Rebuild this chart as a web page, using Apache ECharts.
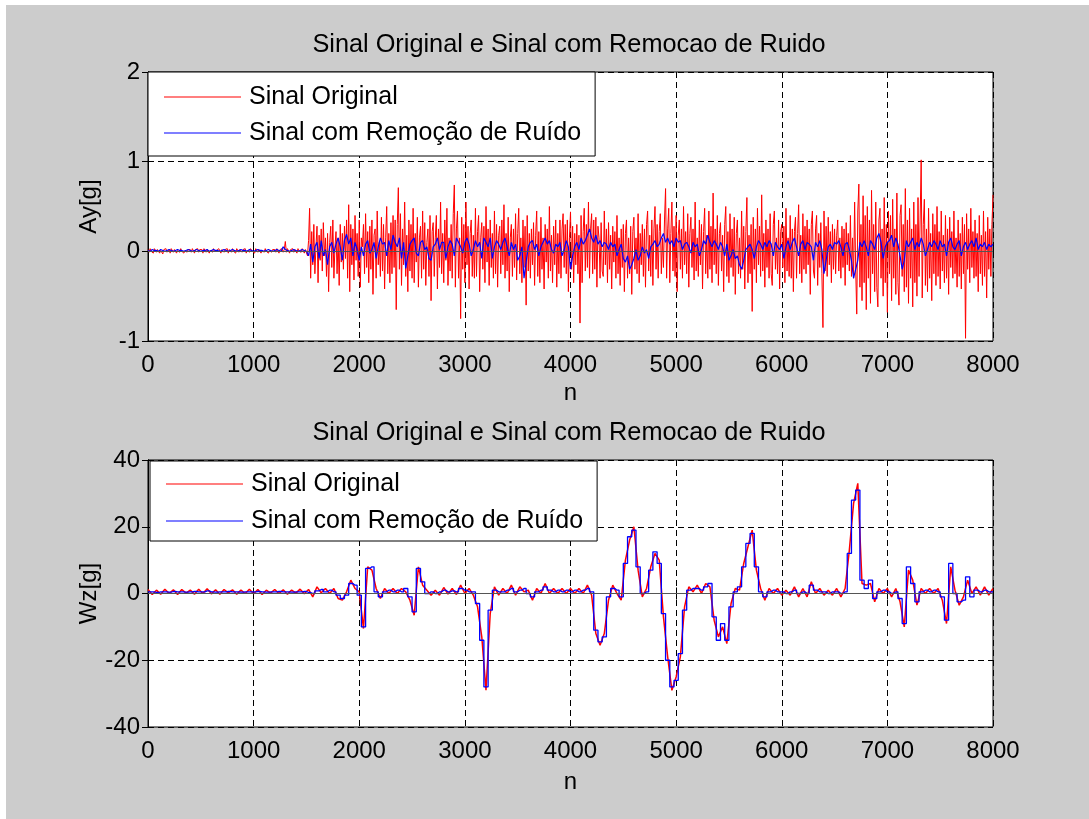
<!DOCTYPE html>
<html>
<head>
<meta charset="utf-8">
<script src="https://cdn.jsdelivr.net/npm/echarts@6/dist/echarts.min.js"></script>
<style>
  html, body { margin: 0; padding: 0; background: #ffffff; }
  #chart { width: 1089px; height: 819px; }
</style>
</head>
<body>
<div id="chart"></div>
<script>
// Sample spacing (in samples n) of each stored series
const AY_ORIG_STEP = 10;
const AY_CLEAN_STEP = 20;
const WZ_STEP = 40;

const xTicks = [0, 1000, 2000, 3000, 4000, 5000, 6000, 7000, 8000];
const ayTicks = [-1, 0, 1, 2];
const wzTicks = [-40, -20, 0, 20, 40];

const seriesNames = ['Sinal Original', 'Sinal com Remoção de Ruído'];
const titleText = 'Sinal Original e Sinal com Remocao de Ruido';

// Ay[g] - raw accelerometer signal (every 10 samples)
const ayOriginal = [
  0.02,-0.01,0.03,0.00,0.02,-0.02,0.03,0.01,-0.01,0.02,0.03,-0.02,0.01,0.02,-0.03,0.02,0.00,0.03,-0.01,0.01,
  0.02,-0.02,0.03,0.01,-0.01,0.02,0.04,-0.02,0.01,0.02,-0.01,0.03,0.00,0.02,-0.02,0.01,0.03,-0.01,0.02,0.00,
  0.02,-0.01,0.03,0.01,-0.02,0.02,0.01,0.03,-0.01,0.02,0.00,0.02,-0.02,0.03,0.01,-0.01,0.02,0.03,-0.02,0.01,
  0.02,-0.01,0.03,0.00,0.02,0.01,-0.01,0.03,0.01,-0.02,0.02,0.03,-0.01,0.02,0.00,0.03,-0.02,0.02,0.01,-0.01,
  0.03,0.00,0.02,-0.02,0.03,0.01,-0.01,0.02,0.04,-0.01,0.02,0.00,0.03,-0.02,0.01,0.02,-0.01,0.03,0.01,0.00,
  0.02,-0.02,0.03,0.01,-0.01,0.02,0.03,-0.02,0.01,0.02,-0.01,0.03,0.00,0.02,-0.02,0.01,0.03,-0.01,0.02,0.00,
  0.02,-0.01,0.03,0.01,-0.02,0.02,0.01,0.03,-0.01,0.02,0.11,-0.01,0.03,0.01,-0.02,0.02,0.00,0.03,-0.01,0.02,
  0.01,-0.02,0.03,0.00,0.02,-0.01,0.03,0.01,-0.02,0.02,0.00,
  -0.05,0.12,0.48,-0.30,0.22,-0.15,0.30,-0.25,0.05,0.28,-0.35,0.18,-0.10,0.25,-0.22,0.32,-0.05,0.15,-0.28,0.20,
  -0.45,0.10,0.28,-0.18,0.35,-0.30,0.05,0.22,-0.25,0.15,-0.38,0.30,-0.12,0.20,-0.20,0.28,-0.08,0.35,-0.30,0.52,
  -0.45,0.30,-0.15,0.25,-0.32,0.40,-0.10,0.20,-0.28,0.35,-0.40,0.15,0.05,0.30,-0.25,0.42,-0.18,0.22,-0.35,0.28,
  -0.20,0.35,-0.48,0.18,0.25,-0.30,0.45,-0.15,0.10,-0.28,0.38,-0.22,0.30,-0.42,0.15,0.50,-0.25,0.20,-0.35,0.32,
  -0.25,0.40,-0.18,0.35,-0.65,0.30,0.71,-0.20,0.42,-0.38,0.25,-0.15,0.55,-0.28,0.18,-0.45,0.35,-0.22,0.30,-0.30,
  0.48,-0.35,0.20,-0.12,0.38,-0.40,0.15,0.28,-0.30,0.45,-0.20,0.32,-0.38,0.10,0.25,-0.28,0.40,-0.55,0.22,0.32,
  -0.28,0.15,0.40,-0.42,0.25,-0.18,0.55,-0.25,0.20,-0.35,0.35,-0.10,0.48,-0.38,0.15,-0.22,0.30,-0.30,0.42,0.74,
  -0.40,0.25,0.45,-0.30,0.15,-0.75,0.38,-0.20,0.30,-0.35,0.55,-0.15,0.28,-0.42,0.20,0.35,-0.28,0.18,-0.30,0.48,
  -0.28,0.22,0.40,-0.45,0.15,0.32,-0.20,0.28,-0.35,0.50,-0.12,0.25,-0.38,0.35,-0.18,0.20,-0.30,0.45,-0.25,0.30,
  -0.40,0.18,0.28,-0.25,0.35,-0.15,0.52,-0.30,0.20,-0.22,0.38,-0.45,0.15,0.30,-0.28,0.25,-0.18,0.42,-0.32,0.20,
  0.48,-0.25,0.15,-0.35,0.35,-0.18,0.28,-0.60,0.40,-0.22,0.20,-0.30,0.25,-0.15,0.32,-0.38,0.18,0.45,-0.28,0.22,
  -0.35,0.38,-0.20,0.15,-0.42,0.30,-0.12,0.25,-0.30,0.50,-0.22,0.18,-0.35,0.28,-0.15,0.35,-0.40,0.20,-0.25,0.35,
  -0.30,0.25,0.42,-0.18,0.30,-0.25,0.35,-0.45,0.15,0.44,-0.20,0.28,-0.35,0.20,-0.15,0.30,-0.25,0.18,-0.80,0.40,
  -0.35,0.22,0.48,-0.22,0.30,-0.18,0.55,-0.30,0.25,0.42,-0.25,0.35,-0.20,0.38,-0.40,0.28,0.15,-0.30,0.32,-0.22,
  -0.28,0.45,-0.15,0.25,-0.35,0.32,-0.20,0.18,-0.42,0.28,-0.12,0.22,-0.30,0.40,-0.25,0.15,-0.38,0.25,-0.18,0.30,
  -0.45,0.20,0.35,-0.30,0.15,-0.25,0.28,-0.48,0.22,0.38,-0.20,0.15,-0.25,0.42,-0.35,0.20,-0.15,0.30,-0.28,0.25,
  -0.40,0.30,0.45,-0.22,0.18,-0.28,0.35,-0.38,0.25,0.50,-0.20,0.30,-0.30,0.22,0.42,-0.25,0.15,-0.18,0.35,0.70,
  -0.30,0.25,0.48,-0.35,0.20,0.55,-0.22,0.28,-0.28,0.40,-0.45,0.18,0.35,-0.20,0.25,-0.30,0.50,-0.15,0.22,-0.25,
  0.42,-0.40,0.20,0.38,-0.18,0.25,-0.32,0.55,-0.22,0.15,-0.28,0.35,-0.15,0.30,-0.42,0.22,0.48,-0.25,0.18,-0.30,
  0.45,-0.20,0.28,-0.35,0.65,-0.15,0.25,-0.25,0.40,-0.38,0.20,0.32,-0.22,0.18,-0.45,0.30,0.50,-0.28,0.22,-0.35,
  0.42,-0.18,0.25,-0.28,0.38,-0.48,0.20,0.35,-0.25,0.15,-0.30,0.45,-0.20,0.28,-0.42,0.22,0.60,-0.35,0.18,-0.25,
  0.30,-0.67,0.38,-0.20,0.25,-0.35,0.48,-0.15,0.28,-0.28,0.63,-0.22,0.20,-0.40,0.35,-0.18,0.25,-0.30,0.42,-0.25,
  -0.38,0.30,0.45,-0.20,0.15,-0.25,0.35,-0.42,0.22,0.30,-0.18,0.28,-0.35,0.48,-0.22,0.15,-0.28,0.40,-0.30,0.25,
  -0.45,0.22,0.38,-0.30,0.20,0.52,-0.25,0.18,-0.35,0.42,-0.20,0.28,-0.25,0.35,-0.15,0.25,-0.48,0.30,0.45,-0.22,
  -0.30,0.25,0.40,-0.38,0.20,-0.18,0.32,-0.25,-0.85,0.45,-0.22,0.28,-0.28,0.38,-0.15,0.22,-0.35,0.30,-0.20,0.25,
  -0.25,0.18,0.35,-0.22,0.15,-0.30,0.28,-0.18,0.25,-0.38,0.32,-0.15,0.20,-0.22,0.40,-0.28,0.15,-0.30,0.55,-0.20,
  -0.70,0.45,0.75,-0.40,0.30,-0.55,0.62,-0.35,0.40,-0.65,0.50,-0.30,0.35,-0.58,0.68,-0.25,0.30,-0.45,0.55,-0.40,
  -0.62,0.35,0.48,-0.30,0.25,-0.50,0.60,-0.35,0.30,-0.68,0.45,-0.25,0.40,-0.55,0.58,-0.30,0.25,-0.48,0.65,-0.35,
  -0.60,0.40,0.52,-0.28,0.30,-0.45,0.70,-0.40,0.35,-0.58,0.48,-0.30,0.25,-0.62,0.55,-0.35,0.30,-0.50,0.60,-0.28,
  0.35,1.02,-0.52,0.30,0.58,-0.38,0.25,-0.45,0.48,-0.30,0.20,-0.55,0.42,-0.25,0.30,-0.38,0.50,-0.28,0.22,-0.42,
  0.45,-0.22,0.18,-0.35,0.40,-0.30,0.25,-0.48,0.38,-0.18,0.22,-0.30,0.45,-0.25,0.15,-0.40,0.35,-0.28,0.20,-0.42,
  0.38,-0.25,0.30,-0.97,0.42,-0.20,0.25,-0.35,0.48,-0.18,0.22,-0.30,0.35,-0.28,0.20,-0.45,0.40,-0.25,0.18,-0.38,
  0.45,-0.28,0.22,-0.52,0.38,-0.20,0.25,-0.28,0.30,0.63
];

// Ay[g] - denoised signal (every 20 samples)
const ayClean = [
  0.01,0.00,0.02,0.01,0.01,0.00,0.02,0.01,0.00,0.01,0.02,0.01,0.00,0.01,0.02,0.01,0.01,0.00,0.01,0.02,
  0.01,0.00,0.01,0.02,0.01,0.00,0.01,0.01,0.02,0.00,0.01,0.02,0.01,0.01,0.00,0.01,0.02,0.01,0.00,0.01,
  0.02,0.01,0.00,0.01,0.02,0.01,0.01,0.00,0.02,0.01,0.00,0.01,0.02,0.01,0.01,0.00,0.01,0.02,0.01,0.00,
  0.01,0.02,0.01,0.00,0.05,0.02,0.01,0.00,0.01,0.02,0.01,0.00,0.01,0.02,0.01,0.00,-0.05,0.08,-0.12,0.05,
  0.10,-0.08,0.12,-0.05,0.02,-0.15,0.05,0.10,-0.02,0.08,0.15,0.05,-0.10,0.12,0.19,0.08,0.15,-0.05,0.10,0.02,
  -0.10,0.05,-0.05,0.08,0.12,-0.02,0.02,0.10,-0.08,0.05,0.15,0.08,0.10,-0.05,0.12,0.02,0.18,0.10,0.05,0.15,
  -0.08,0.10,-0.19,-0.05,0.08,0.12,0.15,-0.02,-0.05,0.10,0.12,0.02,0.05,-0.08,-0.10,0.05,0.08,0.15,0.02,0.10,
  0.10,-0.08,0.05,0.12,0.08,-0.05,0.15,0.10,0.05,-0.02,0.10,0.15,0.08,-0.05,0.02,0.12,0.05,0.10,-0.08,0.15,
  0.10,0.05,0.15,-0.08,0.05,0.12,0.08,0.02,0.10,0.15,0.05,-0.05,0.10,0.02,0.08,-0.10,-0.05,0.05,-0.30,-0.12,
  0.05,0.10,0.12,0.02,0.08,-0.05,0.05,0.10,0.15,0.08,0.12,0.02,-0.02,0.08,0.05,0.10,-0.05,0.02,0.12,0.05,
  -0.20,-0.05,0.05,0.10,0.02,0.15,0.08,0.12,0.18,0.25,0.15,0.10,0.18,0.08,0.12,0.05,0.10,0.08,0.02,0.10,
  0.05,0.08,-0.05,0.02,0.08,-0.08,-0.12,-0.05,-0.20,-0.15,-0.08,0.02,-0.10,-0.05,0.05,-0.02,0.02,-0.08,0.05,0.08,
  0.12,0.05,0.08,0.15,0.20,0.10,0.15,0.08,0.12,0.05,0.15,0.10,0.12,0.02,0.08,0.10,0.05,-0.02,0.10,0.05,
  0.08,-0.05,0.02,0.12,0.08,0.18,0.10,0.05,0.12,0.08,0.02,0.10,0.05,-0.05,0.08,-0.10,-0.05,0.02,-0.08,-0.05,
  -0.15,-0.20,-0.10,0.02,0.05,0.08,0.02,-0.08,0.05,0.12,0.08,0.02,0.10,0.05,0.12,0.08,-0.05,0.10,0.05,0.02,
  0.08,-0.08,0.05,0.12,0.02,0.10,0.15,0.05,-0.05,0.08,0.12,0.02,0.10,0.08,0.05,-0.10,0.10,0.05,0.12,0.02,
  -0.25,-0.10,0.05,0.08,0.02,0.10,0.08,0.12,0.05,-0.05,0.08,0.10,0.02,-0.10,-0.30,-0.20,-0.10,0.10,0.05,0.12,
  0.05,-0.05,0.12,0.08,0.02,0.15,0.20,0.10,-0.08,0.05,0.10,0.12,0.18,0.05,0.15,0.08,-0.05,-0.20,-0.10,0.12,
  0.05,0.10,0.15,0.02,0.10,0.05,0.15,0.08,-0.05,0.02,0.10,0.05,0.12,0.08,0.02,0.12,0.05,0.08,-0.05,0.10,
  0.15,0.05,0.02,0.08,0.12,-0.05,0.05,0.10,0.02,0.08,0.12,0.05,0.15,0.02,0.08,0.05,0.10,0.02,0.08,0.05,
  0.08
];

// Wz[g] - raw gyroscope signal (every 40 samples)
const wzOriginal = [
  1.2,-0.3,1.0,-0.2,1.3,0.0,1.1,-0.3,1.2,0.1,
  1.0,-0.2,1.3,0.0,1.4,-0.1,1.1,-0.2,1.2,0.2,
  1.1,-0.2,1.0,0.0,1.3,-0.1,1.2,-0.3,1.0,0.1,
  1.2,0.0,1.1,-0.2,1.0,0.1,1.3,-0.1,1.2,-1.0,
  2.0,0.2,1.5,0.0,1.5,-1.5,-2.0,0.5,4.0,1.5,
  0.5,-10.5,8.0,7.0,1.5,-1.5,1.5,0.0,1.5,0.0,
  1.5,0.5,-2.0,-6.5,8.0,2.5,1.0,-0.5,1.0,-0.5,
  1.8,-0.2,1.5,-0.3,2.5,0.0,1.5,-0.5,-4.0,-13.0,
  -29.0,-6.0,2.0,-0.5,1.5,0.0,2.5,-0.5,2.0,0.5,
  1.0,-2.0,1.5,0.0,3.0,0.0,1.5,0.0,1.5,0.0,
  1.5,0.0,1.5,0.0,2.5,-0.5,-12.0,-15.5,-12.0,-2.0,
  2.5,0.0,-2.0,10.0,16.0,20.0,7.0,-1.0,1.5,8.0,
  12.0,10.0,-7.0,-19.0,-29.0,-25.0,-19.0,-4.0,2.0,0.5,
  2.5,0.0,3.0,2.0,-8.0,-13.0,-10.0,-15.0,-3.0,1.5,
  1.0,9.0,14.0,19.0,7.0,1.5,-2.0,1.5,0.0,1.5,
  -0.5,1.0,-0.5,2.0,-1.0,1.5,-1.0,3.5,0.0,1.5,
  -0.5,1.0,-0.5,1.5,-1.0,1.5,13.0,27.0,33.0,3.0,
  2.5,3.0,-2.5,1.5,0.0,1.5,-1.0,1.5,-2.5,-10.0,
  7.0,4.0,-3.5,1.5,0.0,1.5,0.0,1.5,-2.0,-9.0,
  8.0,1.0,-3.5,-1.0,4.0,0.0,2.0,-0.5,2.0,-0.5,
  1.5
];

// Wz[g] - denoised signal (every 40 samples)
const wzClean = [
  0.5,0.5,0.3,0.5,0.5,0.4,0.6,0.5,0.5,0.4,
  0.5,0.6,0.5,0.5,0.8,0.5,0.4,0.5,0.5,0.6,
  0.5,0.5,0.4,0.5,0.5,0.5,0.6,0.5,0.4,0.5,
  0.5,0.6,0.5,0.5,0.4,0.5,0.5,0.6,0.3,0.0,
  0.8,1.2,0.5,1.0,0.5,-0.5,-1.5,-0.5,3.0,2.5,
  -0.5,-10.0,7.5,8.0,0.5,-1.0,0.5,1.0,0.5,1.0,
  0.5,1.5,-1.0,-5.5,7.5,3.5,0.0,0.5,0.0,0.5,
  1.0,0.5,0.8,0.5,1.5,1.0,0.5,0.5,-3.0,-14.0,
  -28.0,-5.0,1.0,0.5,0.5,1.0,1.5,0.5,1.0,1.5,
  0.0,-1.0,0.5,1.0,2.0,1.0,0.5,1.0,0.5,1.0,
  0.5,1.0,0.5,1.0,1.5,0.5,-11.0,-14.5,-13.0,-1.0,
  1.5,1.0,-1.0,9.0,17.0,19.0,8.0,0.0,0.5,7.0,
  12.5,9.0,-6.0,-20.0,-28.0,-26.0,-18.0,-5.0,1.0,1.5,
  1.5,1.0,2.0,3.0,-7.0,-14.0,-9.0,-14.0,-4.0,0.5,
  2.0,8.0,15.0,18.0,8.0,0.5,-1.0,0.5,1.0,0.5,
  0.5,0.0,0.5,1.0,0.0,0.5,0.0,2.5,1.0,0.5,
  0.5,0.0,0.5,0.5,0.0,0.5,12.0,28.0,31.0,4.0,
  1.5,4.0,-1.5,0.5,1.0,0.5,0.0,0.5,-1.5,-9.0,
  8.0,3.0,-2.5,0.5,1.0,0.5,1.0,0.5,-1.0,-8.0,
  9.0,0.0,-2.5,-2.0,5.0,-1.0,1.0,0.5,1.0,0.5,
  0.5
];

const toPairs = (arr, step) => arr.map((v, i) => [i * step, v]);

const FONT = 'Liberation Sans, Arial, Helvetica, sans-serif';
const RED = '#ff0000';
const BLUE = '#0000ff';

const grids = [
  { left: 148, top: 72, width: 845, height: 269 },
  { left: 148, top: 460, width: 845, height: 267 }
];

function stepOf(ticks) { return ticks[1] - ticks[0]; }

function xAxes(gridIndex, nameGap) {
  const base = {
    gridIndex, type: 'value',
    min: xTicks[0], max: xTicks[xTicks.length - 1], interval: stepOf(xTicks)
  };
  return [
    Object.assign({}, base, {
      position: 'bottom',
      name: 'n', nameLocation: 'middle', nameGap, nameMoveOverlap: false,
      nameTextStyle: { color: '#000', fontSize: 24, fontFamily: FONT },
      axisLine: { show: true, lineStyle: { color: '#000', width: 1 } },
      axisTick: { show: true, inside: true, length: 6, lineStyle: { color: '#000' } },
      axisLabel: { color: '#000', fontSize: 24, fontFamily: FONT, margin: 12, formatter: v => String(v) },
      splitLine: { show: true, lineStyle: { color: '#000', type: [6, 4], width: 1 } }
    }),
    Object.assign({}, base, {
      position: 'top',
      axisLine: { show: true, lineStyle: { color: '#000', width: 1 } },
      axisTick: { show: true, inside: true, length: 6, lineStyle: { color: '#000' } },
      axisLabel: { show: false },
      splitLine: { show: false }
    })
  ];
}

function yAxes(gridIndex, ticks, label) {
  const base = {
    gridIndex, type: 'value',
    min: ticks[0], max: ticks[ticks.length - 1], interval: stepOf(ticks)
  };
  return [
    Object.assign({}, base, {
      position: 'left',
      name: label, nameLocation: 'middle', nameGap: 47, nameRotate: 90, nameMoveOverlap: false,
      nameTextStyle: { color: '#000', fontSize: 24, fontFamily: FONT },
      axisLine: { show: true, lineStyle: { color: '#000', width: 1 } },
      axisTick: { show: true, inside: true, length: 6, lineStyle: { color: '#000' } },
      axisLabel: { color: '#000', fontSize: 24, fontFamily: FONT, margin: 8, formatter: v => String(v) },
      splitLine: { show: true, lineStyle: { color: '#000', type: [6, 4], width: 1 } }
    }),
    Object.assign({}, base, {
      position: 'right',
      axisLine: { show: true, lineStyle: { color: '#000', width: 1 } },
      axisTick: { show: true, inside: true, length: 6, lineStyle: { color: '#000' } },
      axisLabel: { show: false },
      splitLine: { show: false }
    })
  ];
}

function legendAt(left, top, padding, gap) {
  return {
    left, top, orient: 'vertical',
    data: seriesNames,
    icon: 'rect', itemWidth: 77, itemHeight: 1.2, itemGap: gap,
    padding,
    backgroundColor: '#ffffff', borderColor: '#000000', borderWidth: 1,
    selectedMode: false,
    textStyle: { color: '#000', fontSize: 25, fontFamily: FONT, lineHeight: 26, padding: [0, 0, 0, 3] }
  };
}

const zeroLine = {
  silent: true, symbol: 'none',
  label: { show: false },
  lineStyle: { color: '#555555', type: 'solid', width: 1 },
  data: [{ yAxis: 0 }]
};

function lineSeries(name, data, color, width, xi, yi, extra) {
  return Object.assign({
    name, type: 'line', data,
    xAxisIndex: xi, yAxisIndex: yi,
    showSymbol: false, symbol: 'none',
    lineStyle: { color, width },
    itemStyle: { color },
    animation: false
  }, extra || {});
}

const titleStyle = { color: '#000', fontSize: 25.3, fontWeight: 'normal', fontFamily: FONT };

const chart = echarts.init(document.getElementById('chart'), null, { renderer: 'canvas' });

chart.setOption({
  backgroundColor: 'transparent',
  animation: false,
  graphic: [
    { type: 'rect', left: 6, top: 5, shape: { width: 1083, height: 814 }, style: { fill: '#cccccc' }, z: -10, silent: true }
  ],
  title: [
    { text: titleText, left: 564, top: 28, textAlign: 'center', textStyle: titleStyle },
    { text: titleText, left: 564, top: 416, textAlign: 'center', textStyle: titleStyle }
  ],
  legend: [
    legendAt(148, 72, [12, 14, 10, 16], 10),
    legendAt(150, 461, [10, 14, 7, 16], 11)
  ],
  grid: grids.map(g => Object.assign({
    show: true, backgroundColor: '#ffffff', borderColor: '#000', borderWidth: 1, containLabel: false
  }, g)),
  xAxis: [].concat(xAxes(0, 40), xAxes(1, 43)),
  yAxis: [].concat(yAxes(0, ayTicks, 'Ay[g]'), yAxes(1, wzTicks, 'Wz[g]')),
  series: [
    lineSeries(seriesNames[0], toPairs(ayOriginal, AY_ORIG_STEP), RED, 1, 0, 0, { markLine: zeroLine }),
    lineSeries(seriesNames[1], toPairs(ayClean, AY_CLEAN_STEP), BLUE, 1.2, 0, 0),
    lineSeries(seriesNames[0], toPairs(wzOriginal, WZ_STEP), RED, 1.5, 2, 2, { markLine: zeroLine }),
    lineSeries(seriesNames[1], toPairs(wzClean, WZ_STEP), BLUE, 1.3, 2, 2, { step: 'middle' })
  ]
});
</script>
</body>
</html>
